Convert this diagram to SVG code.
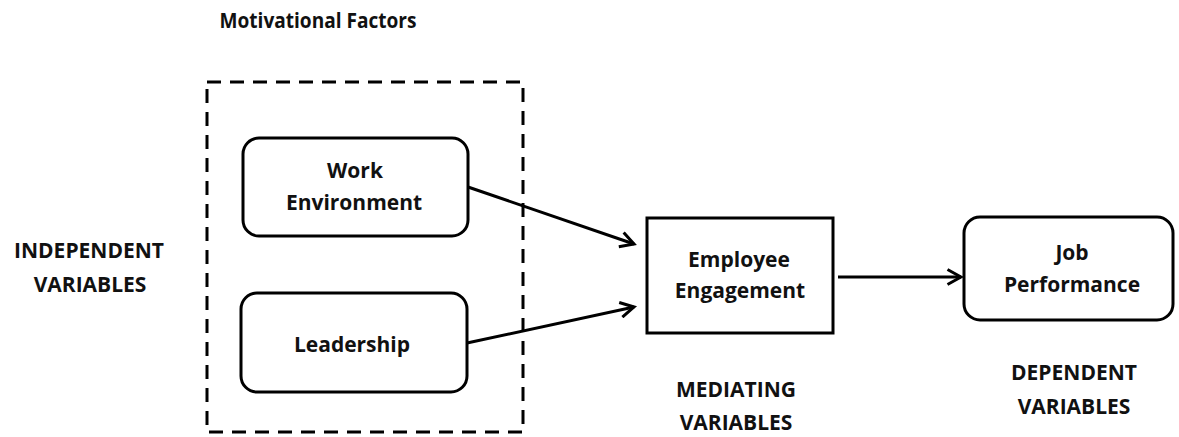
<svg xmlns="http://www.w3.org/2000/svg" width="1179" height="437" viewBox="0 0 1179 437">
<style>
text{font-family:"Open Sans","Liberation Sans",sans-serif;font-weight:bold;font-size:21px;fill:#111;text-anchor:middle}
.box{fill:#fff;stroke:#000;stroke-width:3}
.conn{stroke:#000;stroke-width:3;fill:none;marker-end:url(#ah)}
</style>
<defs>
<marker id="ah" viewBox="0 0 12 12" refX="10" refY="6" markerWidth="6" markerHeight="6" markerUnits="strokeWidth" orient="auto">
<path d="M1,1 L10,6 L1,11" fill="none" stroke="#000" stroke-width="2"/>
</marker>
</defs>
<rect width="1179" height="437" fill="#fff"/>
<text x="318" y="28" textLength="197" lengthAdjust="spacingAndGlyphs">Motivational Factors</text>
<text x="89" y="258">INDEPENDENT</text>
<text x="90" y="292">VARIABLES</text>
<text x="736" y="397">MEDIATING</text>
<text x="736" y="430">VARIABLES</text>
<text x="1074" y="380">DEPENDENT</text>
<text x="1074" y="414">VARIABLES</text>
<rect x="207" y="82" width="316" height="350" fill="none" stroke="#000" stroke-width="3" stroke-dasharray="14,9"/>
<g id="work-environment">
<rect class="box" x="243" y="138" width="225" height="98" rx="16"/>
<text x="355" y="178">Work</text>
<text x="354" y="210">Environment</text>
</g>
<g id="leadership">
<rect class="box" x="241" y="293" width="226" height="99" rx="16"/>
<text x="352" y="352">Leadership</text>
</g>
<g id="employee-engagement">
<rect class="box" x="647" y="218" width="186" height="115"/>
<text x="739" y="267">Employee</text>
<text x="740" y="298">Engagement</text>
</g>
<g id="job-performance">
<rect class="box" x="964" y="217" width="209" height="103" rx="16"/>
<text x="1072" y="260">Job</text>
<text x="1072" y="292">Performance</text>
</g>
<g id="connectors">
<line class="conn" x1="468" y1="187" x2="634" y2="244"/>
<line class="conn" x1="467" y1="343" x2="634" y2="307"/>
<line class="conn" x1="838" y1="277" x2="961" y2="277"/>
</g>
</svg>
